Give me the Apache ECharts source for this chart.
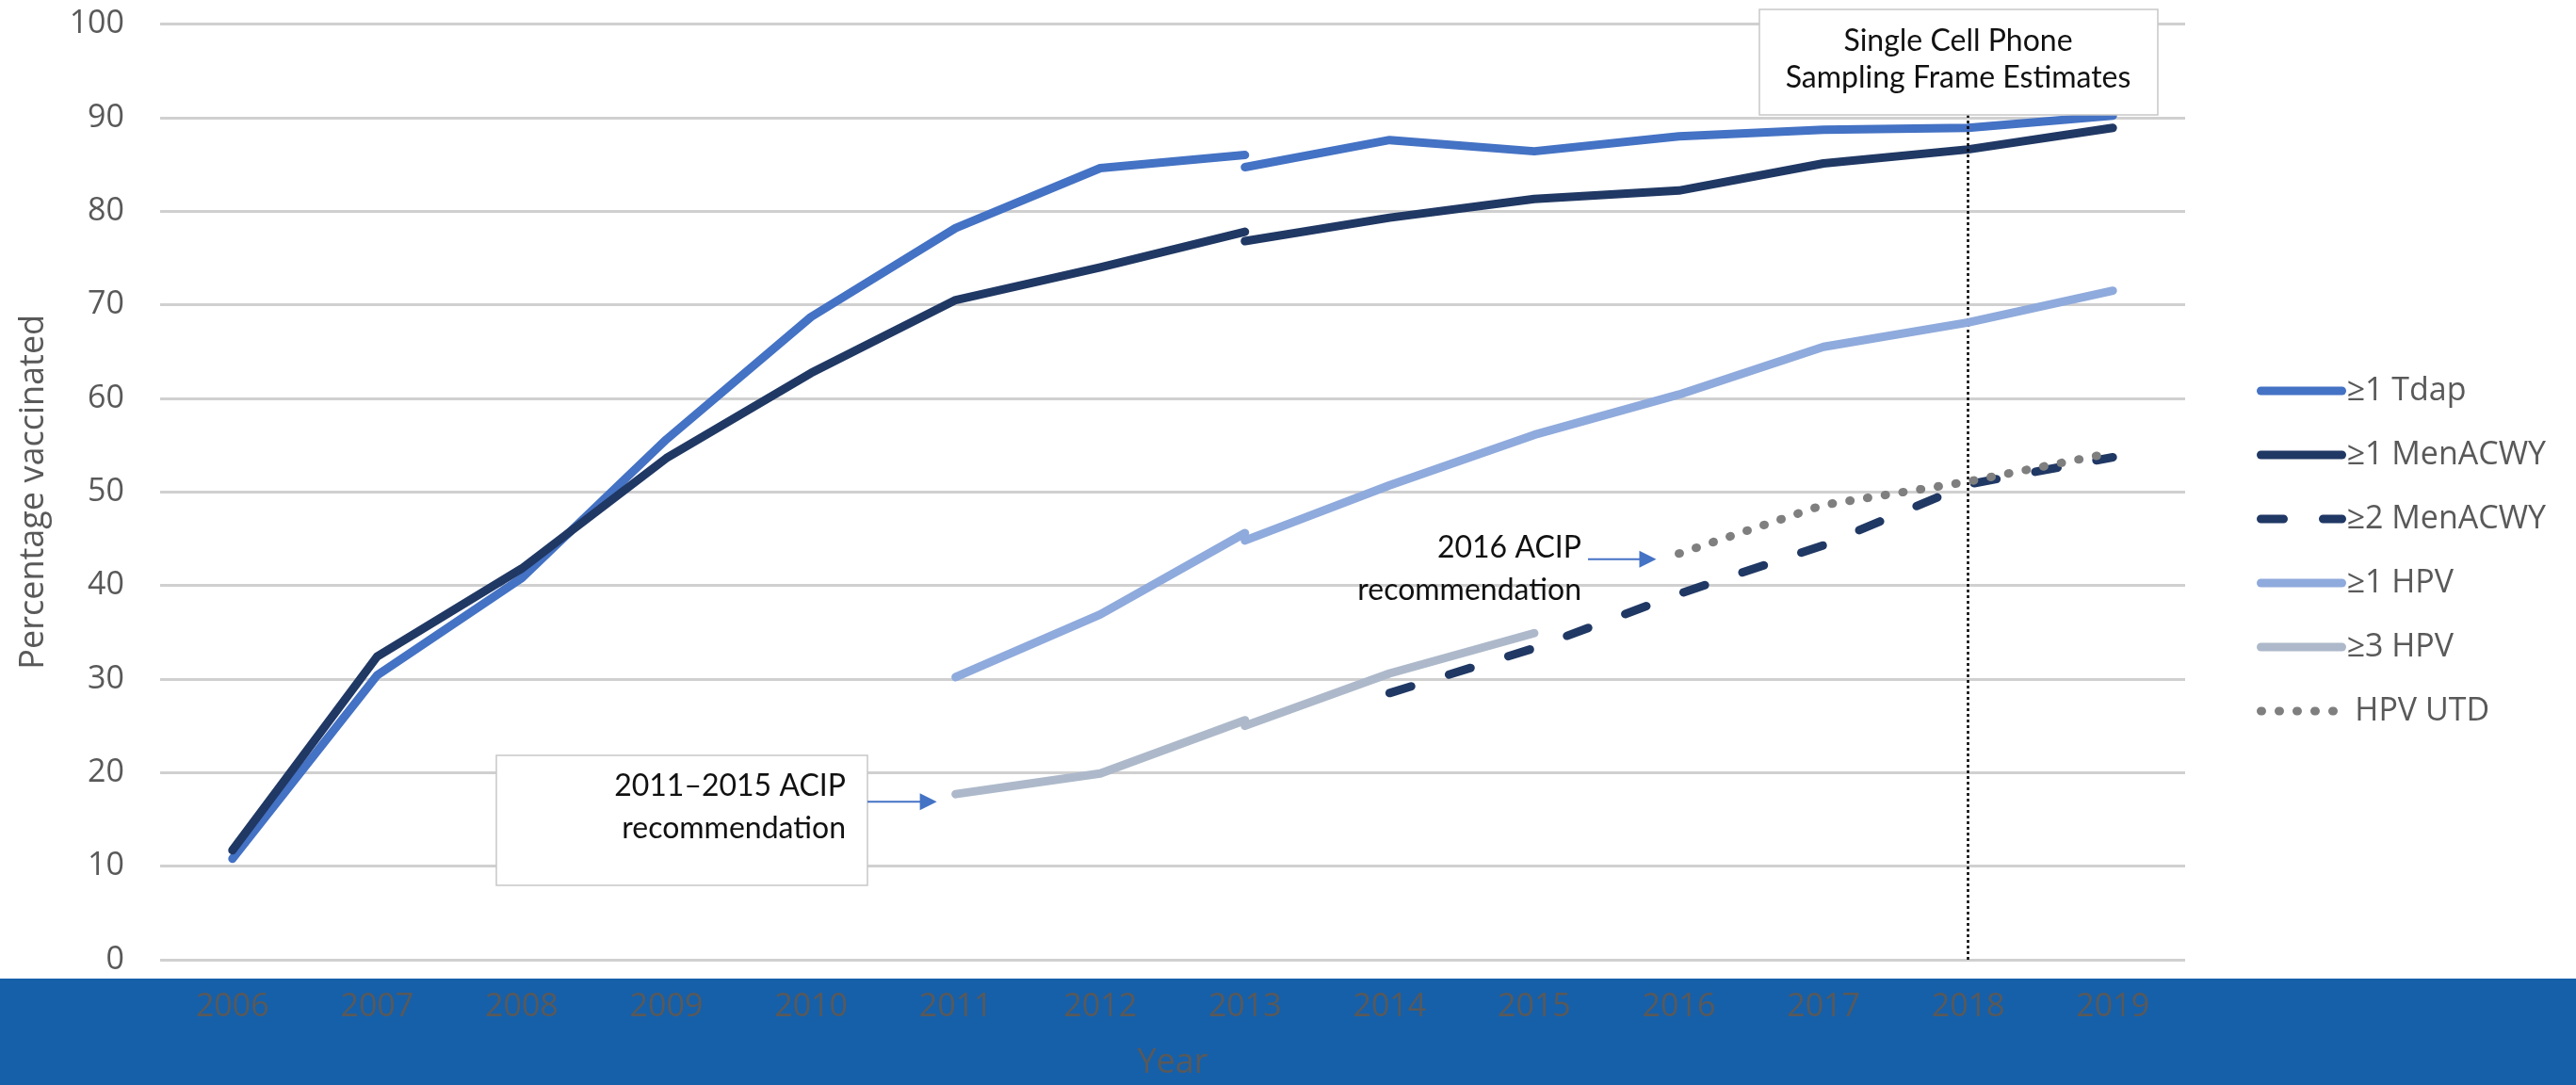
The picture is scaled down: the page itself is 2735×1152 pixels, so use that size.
<!DOCTYPE html>
<html>
<head>
<meta charset="utf-8">
<script src="https://cdn.jsdelivr.net/npm/echarts@6/dist/echarts.min.js"></script>
<style>
  html, body { margin: 0; padding: 0; background: #ffffff; }
  #chart { width: 2735px; height: 1152px; }
</style>
</head>
<body>
<div id="chart"></div>
<script>
// Survey years on the category axis
const years = ['2006', '2007', '2008', '2009', '2010', '2011', '2012', '2013', '2014', '2015', '2016', '2017', '2018', '2019'];

// Percentage vaccinated; the 2013 break marks the revised adequate-provider-data definition
const tdapBefore = [10.8, 30.4, 40.8, 55.6, 68.7, 78.2, 84.6, 86.0, null, null, null, null, null, null];
const tdapAfter  = [null, null, null, null, null, null, null, 84.7, 87.6, 86.4, 88.0, 88.7, 88.9, 90.2];

const menOneBefore = [11.7, 32.4, 41.8, 53.6, 62.7, 70.5, 74.0, 77.8, null, null, null, null, null, null];
const menOneAfter  = [null, null, null, null, null, null, null, 76.8, 79.3, 81.3, 82.2, 85.1, 86.6, 88.9];

const menTwo = [null, null, null, null, null, null, null, null, 28.5, 33.3, 39.1, 44.3, 50.8, 53.7];

const hpvOneBefore = [null, null, null, null, null, 30.2, 36.9, 45.6, null, null, null, null, null, null];
const hpvOneAfter  = [null, null, null, null, null, null, null, 44.8, 50.7, 56.1, 60.4, 65.5, 68.1, 71.5];

const hpvThreeBefore = [null, null, null, null, null, 17.7, 19.9, 25.6, null, null, null, null, null, null];
const hpvThreeAfter  = [null, null, null, null, null, null, null, 25.0, 30.6, 34.9, null, null, null, null];

const hpvUtd = [null, null, null, null, null, null, null, null, null, null, 43.4, 48.6, 51.1, 54.2];

const seriesNames = ['≥1 Tdap', '≥1 MenACWY', '≥2 MenACWY', '≥1 HPV', '≥3 HPV', 'HPV UTD'];

const colors = {
  tdap: '#4472C4',
  men: '#203864',
  hpvOne: '#8FAADC',
  hpvThree: '#ADB9CA',
  utd: '#7F7F7F'
};

const axisFont = "'Open Sans', 'Noto Sans', sans-serif";
const noteFont = "Lato, 'Liberation Sans', sans-serif";

function lineSeries(name, data, color, dash, z) {
  return {
    name: name,
    type: 'line',
    data: data,
    symbol: 'none',
    connectNulls: false,
    animation: false,
    z: z,
    itemStyle: { color: color },
    lineStyle: { color: color, width: 9, type: dash, cap: 'round', join: 'round' }
  };
}

const chart = echarts.init(document.getElementById('chart'), null, { renderer: 'canvas' });

const series = [
  lineSeries(seriesNames[0], tdapBefore, colors.tdap, 'solid', 3),
  lineSeries(seriesNames[0], tdapAfter, colors.tdap, 'solid', 3),
  lineSeries(seriesNames[1], menOneBefore, colors.men, 'solid', 4),
  lineSeries(seriesNames[1], menOneAfter, colors.men, 'solid', 4),
  lineSeries(seriesNames[2], menTwo, colors.men, [24, 42], 5),
  lineSeries(seriesNames[3], hpvOneBefore, colors.hpvOne, 'solid', 6),
  lineSeries(seriesNames[3], hpvOneAfter, colors.hpvOne, 'solid', 6),
  lineSeries(seriesNames[4], hpvThreeBefore, colors.hpvThree, 'solid', 7),
  lineSeries(seriesNames[4], hpvThreeAfter, colors.hpvThree, 'solid', 7),
  lineSeries(seriesNames[5], hpvUtd, colors.utd, [1, 18], 8)
];

// Sampling-frame change marker at 2018
series[series.length - 1].markLine = {
  silent: true,
  symbol: 'none',
  animation: false,
  label: { show: false },
  lineStyle: { color: '#000000', width: 2.5, type: [3, 3] },
  data: [{ xAxis: '2018' }]
};

chart.setOption({
  backgroundColor: '#ffffff',
  animation: false,
  grid: { left: 170, right: 415, top: 25.5, bottom: 129 },
  legend: {
    orient: 'vertical',
    left: 2391,
    top: 392,
    itemWidth: 86,
    itemHeight: 14,
    itemGap: 32,
    selectedMode: false,
    data: seriesNames,
    formatter: function (name) { return name === 'HPV UTD' ? ' HPV UTD' : name; },
    // line-only keys: hide the marker that line legends add by default
    itemStyle: { opacity: 0, borderWidth: 0 },
    lineStyle: { width: 9, cap: 'round', opacity: 1 },
    textStyle: { fontFamily: axisFont, fontSize: 34, color: '#595959', lineHeight: 36 }
  },
  xAxis: {
    type: 'category',
    data: years,
    boundaryGap: true,
    name: 'Year',
    nameLocation: 'middle',
    nameGap: 92,
    nameTextStyle: { fontFamily: axisFont, fontSize: 36, color: '#595959' },
    axisLine: { show: false },
    axisTick: { show: false },
    axisLabel: { margin: 33, fontFamily: axisFont, fontSize: 34, color: '#595959' }
  },
  yAxis: {
    type: 'value',
    min: 0,
    max: 100,
    interval: 10,
    name: 'Percentage vaccinated',
    nameLocation: 'middle',
    nameGap: 116,
    nameTextStyle: { fontFamily: axisFont, fontSize: 36, color: '#595959' },
    axisLine: { show: false },
    axisTick: { show: false },
    axisLabel: { margin: 38, fontFamily: axisFont, fontSize: 34, color: '#595959' },
    splitLine: { lineStyle: { color: '#D0D0D0', width: 3 } }
  },
  series: series
});

// Annotations placed relative to the points they refer to
const p2011 = chart.convertToPixel({ gridIndex: 0 }, [5, hpvThreeBefore[5]]);
const p2016 = chart.convertToPixel({ gridIndex: 0 }, [10, hpvUtd[10]]);
const bandTop = chart.convertToPixel({ gridIndex: 0 }, [0, 0])[1] + 20;

function arrow(x1, x2, y) {
  return [
    { type: 'line', z: 20, shape: { x1: x1, y1: y, x2: x2 - 16, y2: y }, style: { stroke: colors.tdap, lineWidth: 2 } },
    { type: 'polygon', z: 20, shape: { points: [[x2 - 18, y - 9], [x2, y], [x2 - 18, y + 9]] }, style: { fill: colors.tdap } }
  ];
}

const arrowOneY = p2011[1] + 8;
const arrowTwoY = p2016[1] + 6;

chart.setOption({
  graphic: [
    // blue band behind the year labels
    { type: 'rect', z: -10, silent: true, shape: { x: 0, y: bandTop, width: 2735, height: 1152 - bandTop }, style: { fill: '#1660AA' } },
    // sampling frame note
    { type: 'rect', z: 20, shape: { x: 1868, y: 10, width: 423, height: 112 }, style: { fill: '#ffffff', stroke: '#C8C8C8', lineWidth: 1.5 } },
    { type: 'text', z: 21, style: { x: 2079, y: 24, text: 'Single Cell Phone\nSampling Frame Estimates', align: 'center', verticalAlign: 'top', lineHeight: 39, font: '32px ' + noteFont, fill: '#111111' } },
    // 2011–2015 recommendation note
    { type: 'rect', z: 20, shape: { x: 527, y: 802, width: 394, height: 138 }, style: { fill: '#ffffff', stroke: '#C8C8C8', lineWidth: 1.5 } },
    { type: 'text', z: 21, style: { x: 898, y: 812, text: '2011–2015 ACIP\nrecommendation', align: 'right', verticalAlign: 'top', lineHeight: 45, font: '32px ' + noteFont, fill: '#111111' } },
    ...arrow(921, p2011[0] - 20, arrowOneY),
    // 2016 recommendation note
    { type: 'text', z: 21, style: { x: 1679, y: 559, text: '2016 ACIP\nrecommendation', align: 'right', verticalAlign: 'top', lineHeight: 45, font: '32px ' + noteFont, fill: '#111111' } },
    ...arrow(1686, p2016[0] - 24, arrowTwoY)
  ]
});
</script>
</body>
</html>
